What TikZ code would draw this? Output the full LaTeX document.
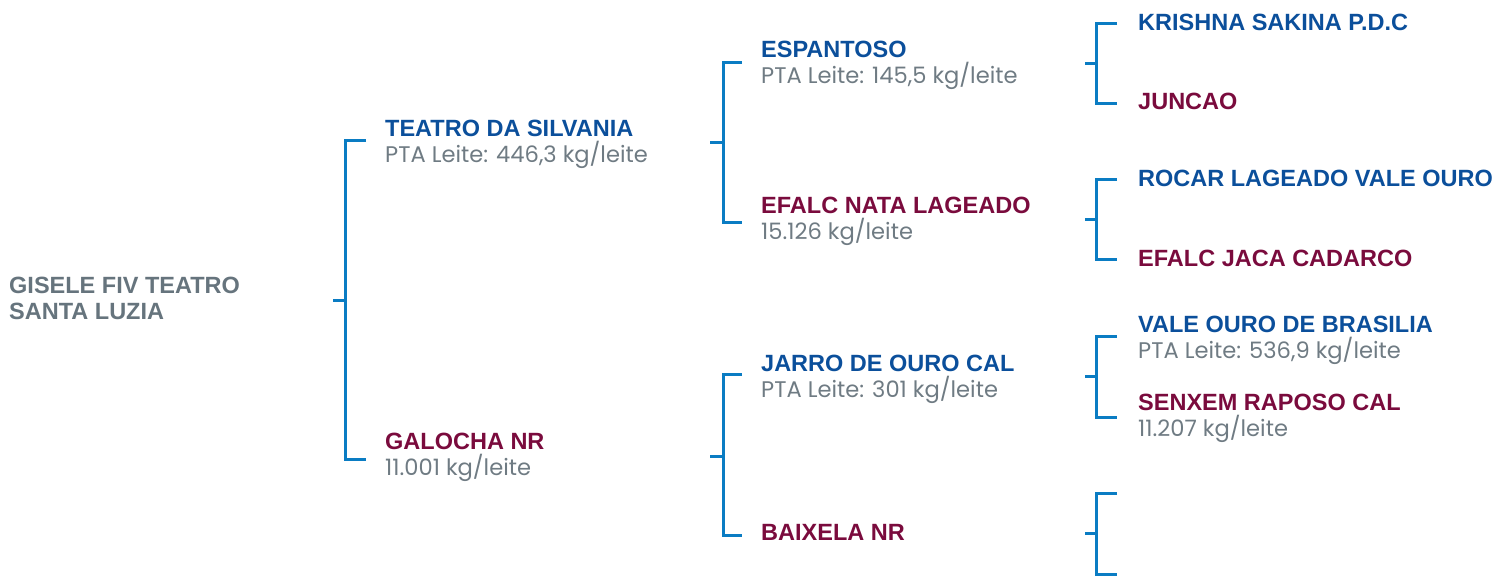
\documentclass[tikz,border=0pt]{standalone}
\usepackage{fontspec}
\setmainfont{Liberation Sans}
\newfontfamily\popfont{Poppins}
\usetikzlibrary{positioning}
\definecolor{sireblue}{HTML}{0B4F9B}
\definecolor{damred}{HTML}{7A0B3D}
\definecolor{valgray}{HTML}{6F7B83}
\definecolor{rootgray}{HTML}{66747D}
\definecolor{linkblue}{HTML}{0A7CC3}

\begin{document}
\begin{tikzpicture}[
  x=1pt, y=-1pt,
  animal/.style={anchor=base west, inner sep=0pt, font=\fontsize{23.5}{26}\selectfont\bfseries},
  sire/.style={animal, text=sireblue},
  dam/.style={animal, text=damred},
  val/.style={anchor=base west, inner sep=0pt, font=\popfont\fontsize{22.6}{26}\selectfont, text=valgray},
  bracket/.style={draw=linkblue, line width=3pt}
]
\useasboundingbox (0,0) rectangle (1495,576);
% Root animal
\node[animal, text=rootgray, align=left] (root) at (9,319) {GISELE FIV TEATRO\\SANTA LUZIA};
% Parents
\node[sire] (tea) at (385,136) {TEATRO DA SILVANIA};
\node[val] (teav) at (385,162) {PTA Leite: 446,3 kg/leite};
\node[dam] (gal) at (385,449) {GALOCHA NR};
\node[val] (galv) at (385,475) {11.001 kg/leite};
% Grandparents
\node[sire] (esp) at (761,57) {ESPANTOSO};
\node[val] (espv) at (761,83) {PTA Leite: 145,5 kg/leite};
\node[dam] (efn) at (761,213) {EFALC NATA LAGEADO};
\node[val] (efnv) at (761,239) {15.126 kg/leite};
\node[sire] (jar) at (761,371) {JARRO DE OURO CAL};
\node[val] (jarv) at (761,397) {PTA Leite: 301 kg/leite};
\node[dam] (bai) at (761,540) {BAIXELA NR};
% Great-grandparents
\node[sire] (kri) at (1138,30) {KRISHNA SAKINA P.D.C};
\node[dam] (jun) at (1138,109) {JUNCAO};
\node[sire] (roc) at (1138,186) {ROCAR LAGEADO VALE OURO};
\node[dam] (efj) at (1138,266) {EFALC JACA CADARCO};
\node[sire] (vob) at (1138,332) {VALE OURO DE BRASILIA};
\node[val] (vobv) at (1138,358) {PTA Leite: 536,9 kg/leite};
\node[dam] (sen) at (1138,410) {SENXEM RAPOSO CAL};
\node[val] (senv) at (1138,436) {11.207 kg/leite};
% Bracket end points
\coordinate (r0) at (333,300);
\coordinate (r0t) at (366,140);
\coordinate (r0b) at (366,459);
\coordinate (tea0) at (710,142);
\coordinate (tea0t) at (742,62);
\coordinate (tea0b) at (742,222);
\coordinate (gal0) at (710,456);
\coordinate (gal0t) at (742,374);
\coordinate (gal0b) at (742,535);
\coordinate (esp0) at (1085,63);
\coordinate (esp0t) at (1117,23);
\coordinate (esp0b) at (1117,103);
\coordinate (efn0) at (1085,219);
\coordinate (efn0t) at (1117,179);
\coordinate (efn0b) at (1117,259);
\coordinate (jar0) at (1085,376);
\coordinate (jar0t) at (1117,336);
\coordinate (jar0b) at (1117,417);
\coordinate (bai0) at (1085,533);
\coordinate (bai0t) at (1117,493);
\coordinate (bai0b) at (1117,574);
% Brackets
\draw[bracket] (r0) -- ++(12,0);
\draw[bracket] (r0t) -- ++(-21,0) |- (r0b);
\draw[bracket] (tea0) -- ++(13,0);
\draw[bracket] (tea0t) -- ++(-19,0) |- (tea0b);
\draw[bracket] (gal0) -- ++(13,0);
\draw[bracket] (gal0t) -- ++(-19,0) |- (gal0b);
\draw[bracket] (esp0) -- ++(11,0);
\draw[bracket] (esp0t) -- ++(-21,0) |- (esp0b);
\draw[bracket] (efn0) -- ++(11,0);
\draw[bracket] (efn0t) -- ++(-21,0) |- (efn0b);
\draw[bracket] (jar0) -- ++(11,0);
\draw[bracket] (jar0t) -- ++(-21,0) |- (jar0b);
\draw[bracket] (bai0) -- ++(11,0);
\draw[bracket] (bai0t) -- ++(-21,0) |- (bai0b);
\end{tikzpicture}
\end{document}
